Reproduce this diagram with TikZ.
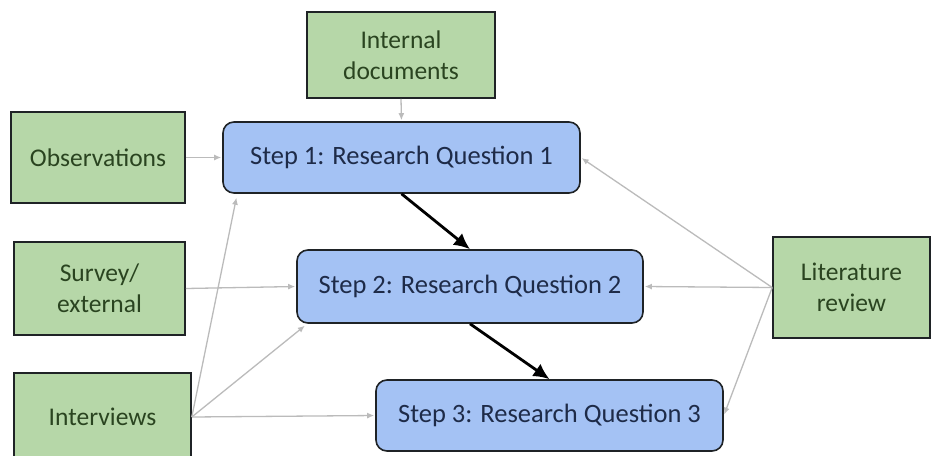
\documentclass[tikz,border=0pt]{standalone}
\usepackage{fontspec}
\setmainfont{Carlito}
\usetikzlibrary{arrows.meta,calc}

\definecolor{srcfill}{HTML}{B6D7A8}
\definecolor{srctext}{HTML}{2A4420}
\definecolor{stepfill}{HTML}{A4C2F4}
\definecolor{steptext}{HTML}{1E2B48}
\definecolor{boxline}{HTML}{1F2326}
\definecolor{feedline}{HTML}{BBBBBB}

\tikzset{
  source/.style={draw=boxline, line width=1.6pt, fill=srcfill, text=srctext,
    align=center, inner sep=0pt,
    font=\fontsize{25.5}{31}\selectfont},
  stage/.style={draw=boxline, line width=1.6pt, fill=stepfill, text=steptext,
    rounded corners=11pt, align=center, inner sep=0pt,
    font=\fontsize{26.5}{31}\selectfont},
  feed/.style={draw=feedline, line width=1.3pt,
    -{Latex[length=7pt,width=6pt]}, shorten >=1pt},
  flow/.style={draw=black, line width=2.8pt,
    -{Latex[length=16pt,width=15pt]}},
}

\begin{document}
\begin{tikzpicture}[x=1pt,y=-1pt]
  \clip (0,0) rectangle (936,455);
  \fill[white] (0,0) rectangle (936,455);

  % data sources
  \node[source, minimum width=188pt, minimum height=86pt] (intdoc) at (401,55) {Internal\\documents};
  \node[source, minimum width=174pt, minimum height=91pt] (obs) at (98,157.5) {Observations};
  \node[source, minimum width=171pt, minimum height=93pt] (survey) at (99.5,288.5) {Survey/\\external};
  \node[source, minimum width=177pt, minimum height=88pt] (interv) at (102.5,417) {Interviews};
  \node[source, minimum width=157pt, minimum height=101pt] (lit) at (851.5,287.5) {Literature\\review};

  % research steps
  \node[stage, minimum width=357pt, minimum height=71pt] (s1) at (401.5,157.5) {Step 1: Research Question 1};
  \node[stage, minimum width=346pt, minimum height=73pt] (s2) at (470,286.5) {Step 2: Research Question 2};
  \node[stage, minimum width=347pt, minimum height=71pt] (s3) at (549.5,415.5) {Step 3: Research Question 3};

  % points on the lower edges of the steps
  \coordinate (s1low) at ($(s1.south west)+(15,0)$);
  \coordinate (s2low) at ($(s2.south west)+(11,0)$);

  % inputs from the sources
  \draw[feed] (intdoc.south) -- (s1.north);
  \draw[feed] (obs.east) -- (s1.west);
  \draw[feed] (survey.east) -- (s2.west);
  \draw[feed, shorten >=4pt] (interv.east) -- (s1low);
  \draw[feed, shorten >=3pt] (interv.east) -- (s2low);
  \draw[feed] (interv.east) -- (s3.west);
  \draw[feed] (lit.west) -- (s1.east);
  \draw[feed] (lit.west) -- (s2.east);
  \draw[feed] (lit.west) -- (s3.east);

  % sequence of the steps
  \draw[flow] (s1.south) -- (s2.north);
  \draw[flow] (s2.south) -- (s3.north);
\end{tikzpicture}
\end{document}
